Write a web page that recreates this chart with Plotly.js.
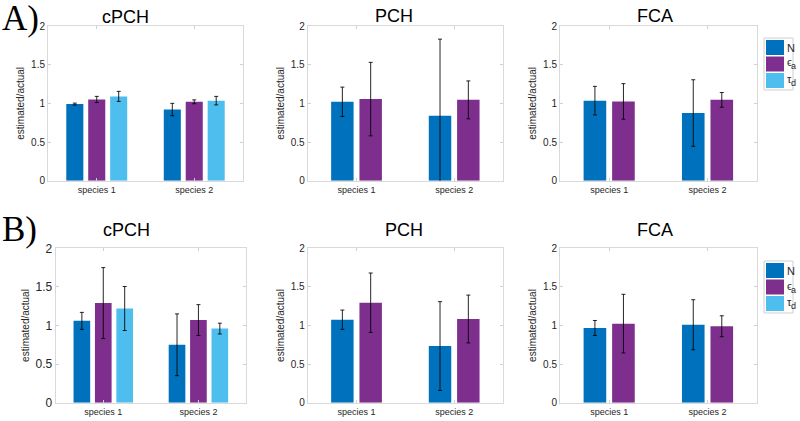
<!DOCTYPE html>
<html>
<head>
<meta charset="utf-8">
<script src="https://cdn.plot.ly/plotly-3.0.1.min.js"></script>
<style>
  html, body { margin: 0; padding: 0; background: #fff; }
  #graph { width: 800px; height: 421px; }
</style>
</head>
<body>
<div id="graph"></div>
<script>
const categories = ['species 1', 'species 2'];
const seriesNames = ['N', 'ϵa', 'τd'];
const seriesSymbols = ['N', 'ϵ', 'τ'];
const seriesSubs = ['', 'a', 'd'];
const seriesColors = ['#0072BD', '#7E2F8E', '#4DBEEE'];
const panelTitles = ['cPCH', 'PCH', 'FCA'];
const rowLabels = ['A)', 'B)'];
const yTicks = [0, 0.5, 1, 1.5, 2];

// A) estimated/actual, value and error per species
const aCpchN = [0.99, 0.92];    const aCpchNErr = [0.013, 0.08];
const aCpchEa = [1.05, 1.02];   const aCpchEaErr = [0.04, 0.025];
const aCpchTd = [1.09, 1.035];  const aCpchTdErr = [0.065, 0.055];
const aPchN = [1.02, 0.84];     const aPchNErr = [0.19, 0.99];
const aPchEa = [1.055, 1.045];  const aPchEaErr = [0.475, 0.245];
const aFcaN = [1.035, 0.875];   const aFcaNErr = [0.185, 0.43];
const aFcaEa = [1.025, 1.045];  const aFcaEaErr = [0.23, 0.095];

// B)
const bCpchN = [1.06, 0.75];    const bCpchNErr = [0.11, 0.40];
const bCpchEa = [1.29, 1.07];   const bCpchEaErr = [0.46, 0.20];
const bCpchTd = [1.22, 0.96];   const bCpchTdErr = [0.285, 0.07];
const bPchN = [1.075, 0.734];   const bPchNErr = [0.125, 0.575];
const bPchEa = [1.295, 1.084];  const bPchEaErr = [0.385, 0.31];
const bFcaN = [0.968, 1.01];    const bFcaNErr = [0.097, 0.324];
const bFcaEa = [1.024, 0.99];   const bFcaEaErr = [0.38, 0.136];

const W = 800, H = 421;
const px = x => x / W;
const py = y => 1 - y / H;

const panels = [
  { series: [[aCpchN, aCpchNErr], [aCpchEa, aCpchEaErr], [aCpchTd, aCpchTdErr]], box: [48, 243, 26, 180.7], tick: 10, title: [125, 17] },
  { series: [[aPchN, aPchNErr], [aPchEa, aPchEaErr]], box: [307.7, 503, 26, 180.7], tick: 10, title: [394, 16] },
  { series: [[aFcaN, aFcaNErr], [aFcaEa, aFcaEaErr]], box: [560, 756.7, 26, 180.7], tick: 10, title: [655, 16] },
  { series: [[bCpchN, bCpchNErr], [bCpchEa, bCpchEaErr], [bCpchTd, bCpchTdErr]], box: [55.7, 246, 248.3, 402.7], tick: 12, title: [126, 230] },
  { series: [[bPchN, bPchNErr], [bPchEa, bPchEaErr]], box: [307.7, 503, 248.3, 402.7], tick: 10, title: [404, 230] },
  { series: [[bFcaN, bFcaNErr], [bFcaEa, bFcaEaErr]], box: [560, 756.7, 248.3, 402.7], tick: 10, title: [655, 230] }
];

const traces = [];
const layout = {
  width: W,
  height: H,
  margin: { l: 0, r: 0, t: 0, b: 0, autoexpand: false },
  paper_bgcolor: '#fff',
  plot_bgcolor: '#fff',
  showlegend: false,
  font: { family: 'Liberation Sans, Arial, sans-serif', color: '#262626', size: 10 },
  annotations: [],
  shapes: []
};

panels.forEach((p, i) => {
  const n = i + 1;
  const xa = n === 1 ? 'x' : 'x' + n;
  const ya = n === 1 ? 'y' : 'y' + n;
  const k = p.series.length;
  const slot = k === 3 ? 0.225 : 0.29;
  const barW = k === 3 ? 0.175 : 0.23;

  p.series.forEach((s, j) => {
    const center = (j - (k - 1) / 2) * slot;
    traces.push({
      type: 'bar',
      x: categories,
      y: s[0],
      name: seriesNames[j],
      xaxis: xa,
      yaxis: ya,
      width: barW,
      offset: center - barW / 2,
      marker: { color: seriesColors[j], line: { width: 0 } },
      error_y: { type: 'data', array: s[1], visible: true, color: 'rgba(0,0,0,0.85)', thickness: 1, width: 2 },
      hoverinfo: 'y'
    });
  });

  const axisBase = {
    showline: true,
    mirror: 'ticks',
    linecolor: '#d9d9d9',
    linewidth: 1,
    ticks: 'inside',
    ticklen: 3,
    tickcolor: '#d0d0d0',
    showgrid: false,
    zeroline: false,
    fixedrange: true
  };

  layout['xaxis' + (n === 1 ? '' : n)] = Object.assign({}, axisBase, {
    domain: [px(p.box[0]), px(p.box[1])],
    anchor: ya,
    type: 'category',
    range: [-0.5, 1.5],
    tickfont: { size: 9, color: '#262626' }
  });
  layout['yaxis' + (n === 1 ? '' : n)] = Object.assign({}, axisBase, {
    domain: [py(p.box[3]), py(p.box[2])],
    anchor: xa,
    range: [0, 2],
    tickvals: yTicks,
    ticktext: yTicks.map(String),
    tickfont: { size: p.tick, color: '#262626' },
    title: { text: 'estimated/actual', font: { size: 10, color: '#262626' }, standoff: 4 }
  });

  layout.annotations.push({
    xref: 'paper', yref: 'paper',
    x: px(p.title[0]), y: py(p.title[1]),
    xanchor: 'center', yanchor: 'middle',
    text: panelTitles[i % 3],
    showarrow: false,
    font: { size: 18, color: '#000' }
  });
});

// row labels
rowLabels.forEach((lab, r) => {
  layout.annotations.push({
    xref: 'paper', yref: 'paper',
    x: px(0), y: py(r === 0 ? 18 : 229),
    xanchor: 'left', yanchor: 'middle',
    text: lab,
    showarrow: false,
    font: { family: 'Liberation Serif, Times New Roman, serif', size: 35, color: '#000' }
  });
});

// legends drawn at the right of each row
[38, 261].forEach(top => {
  layout.shapes.push({
    type: 'rect', xref: 'paper', yref: 'paper',
    x0: px(764), x1: px(793), y0: py(top), y1: py(top + 52),
    line: { color: '#cfcfcf', width: 1 }, fillcolor: '#fff', layer: 'above'
  });
  seriesNames.forEach((name, j) => {
    const y0 = top + 2 + j * 16.5;
    layout.shapes.push({
      type: 'rect', xref: 'paper', yref: 'paper',
      x0: px(766), x1: px(784), y0: py(y0), y1: py(y0 + 15),
      line: { width: 0 }, fillcolor: seriesColors[j], layer: 'above'
    });
    layout.annotations.push({
      xref: 'paper', yref: 'paper',
      x: px(785), y: py(y0 + (seriesSubs[j] ? 6 : 7.5)),
      xanchor: 'left', yanchor: 'middle',
      text: seriesSymbols[j],
      showarrow: false,
      font: { size: 11, color: '#262626' }
    });
    if (seriesSubs[j]) {
      layout.annotations.push({
        xref: 'paper', yref: 'paper',
        x: px(789), y: py(y0 + 10),
        xanchor: 'left', yanchor: 'middle',
        text: seriesSubs[j],
        showarrow: false,
        font: { size: 9, color: '#262626' }
      });
    }
  });
});

Plotly.newPlot('graph', traces, layout, { staticPlot: true });
</script>
</body>
</html>
